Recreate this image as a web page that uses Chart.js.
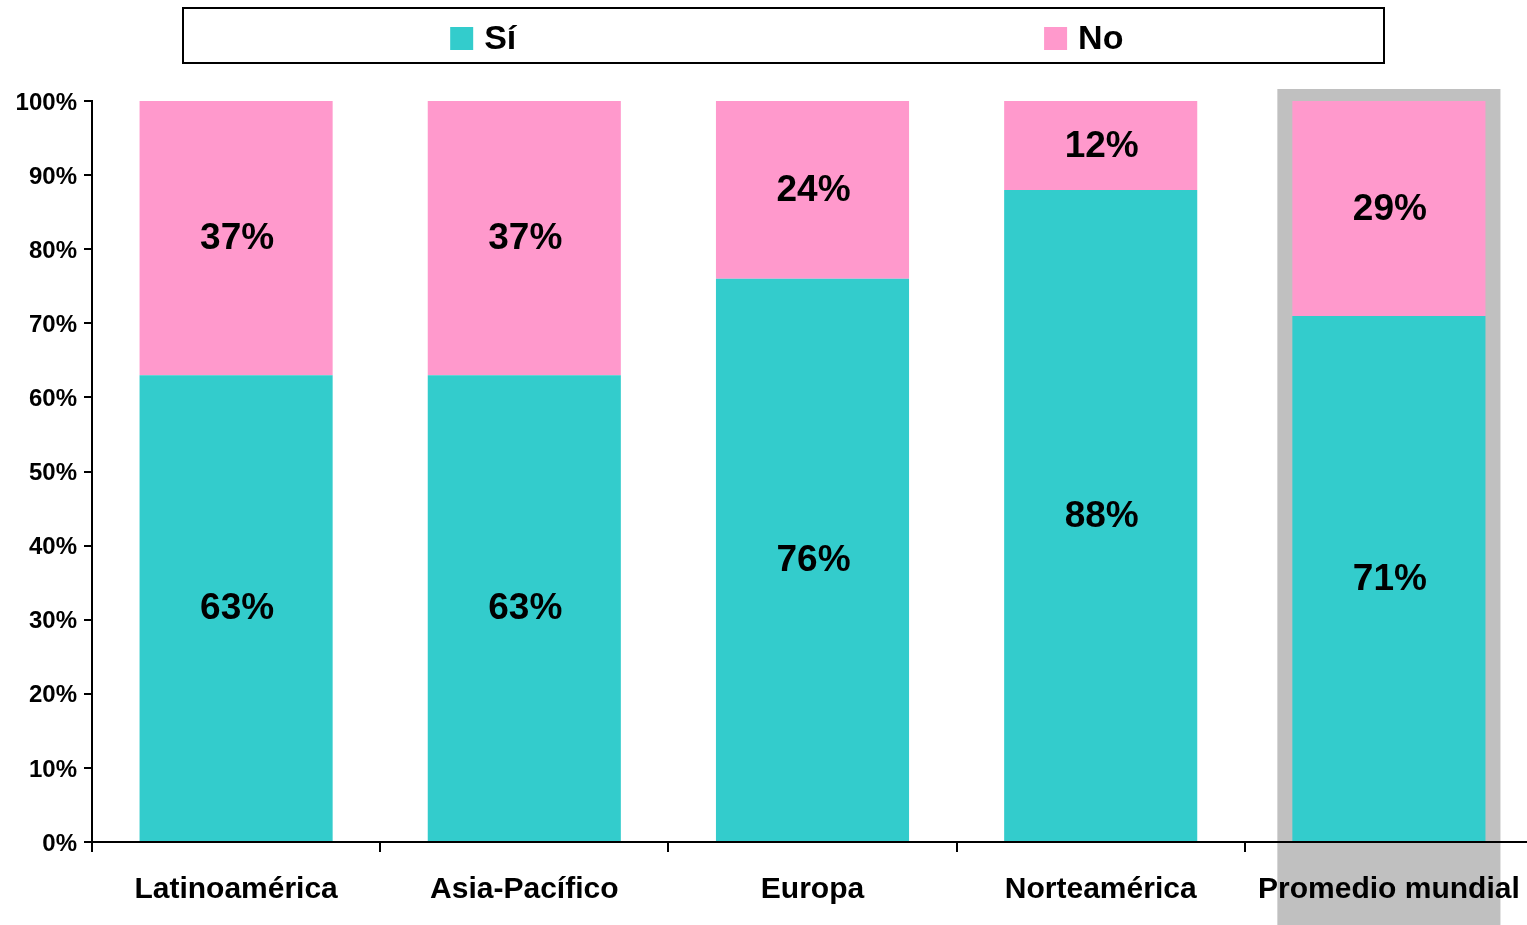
<!DOCTYPE html>
<html>
<head>
<meta charset="utf-8">
<script src="https://cdn.jsdelivr.net/npm/chart.js@4/dist/chart.umd.min.js"></script>
<style>
html,body{margin:0;padding:0;background:#fff;overflow:hidden;}
#wrap{width:1533px;height:925px;}
</style>
</head>
<body>
<div id="wrap"><canvas id="c" width="1533" height="925"></canvas></div>
<script>
const categories = ['Latinoamérica', 'Asia-Pacífico', 'Europa', 'Norteamérica', 'Promedio mundial'];
const siValues = [63, 63, 76, 88, 71];
const noValues = [37, 37, 24, 12, 29];
const seriesNames = ['Sí', 'No'];
const highlightIndex = 4;

const FONT = '"Liberation Sans", Arial, sans-serif';

const highlightPlugin = {
  id: 'highlight',
  beforeDraw(chart) {
    const ctx = chart.ctx;
    const meta = chart.getDatasetMeta(0);
    const el = meta.data[highlightIndex];
    if (!el) return;
    const y = chart.scales.y;
    const half = el.width / 2 + 15;
    const top = y.getPixelForValue(100) - 12;
    ctx.save();
    ctx.fillStyle = '#C0C0C0';
    ctx.fillRect(el.x - half, top, half * 2, chart.height - top);
    ctx.restore();
  }
};

const labelsPlugin = {
  id: 'barLabels',
  afterDatasetsDraw(chart) {
    const ctx = chart.ctx;
    ctx.save();
    ctx.font = 'bold 37px ' + FONT;
    ctx.fillStyle = '#000';
    ctx.textAlign = 'center';
    ctx.textBaseline = 'middle';
    chart.data.datasets.forEach((ds, di) => {
      const meta = chart.getDatasetMeta(di);
      meta.data.forEach((el, i) => {
        const cy = (el.y + el.base) / 2 + 1;
        ctx.fillText(ds.data[i] + '%', el.x + 1, cy);
      });
    });
    ctx.restore();
  }
};

const legendPlugin = {
  id: 'boxLegend',
  afterDraw(chart) {
    const ctx = chart.ctx;
    const bx = 183, by = 8, bw = 1201, bh = 55;
    ctx.save();
    ctx.strokeStyle = '#000';
    ctx.lineWidth = 2;
    ctx.strokeRect(bx, by, bw, bh);
    ctx.font = 'bold 34px ' + FONT;
    ctx.textBaseline = 'middle';
    ctx.textAlign = 'left';
    const n = chart.data.datasets.length;
    const slot = bw / n;
    const cy = by + bh / 2 + 3;
    chart.data.datasets.forEach((ds, i) => {
      const sq = 23, gap = 11;
      const tw = ctx.measureText(ds.label).width;
      const total = sq + gap + tw;
      const cx = bx + slot * i + slot / 2;
      const x0 = cx - total / 2;
      ctx.fillStyle = ds.backgroundColor;
      ctx.fillRect(x0, cy - sq / 2, sq, sq);
      ctx.fillStyle = '#000';
      ctx.fillText(ds.label, x0 + sq + gap, cy + 1);
    });
    ctx.restore();
  }
};

new Chart(document.getElementById('c'), {
  type: 'bar',
  data: {
    labels: categories,
    datasets: [
      { label: seriesNames[0], data: siValues, backgroundColor: '#33CCCC', borderWidth: 0, barPercentage: 0.67, categoryPercentage: 1.0 },
      { label: seriesNames[1], data: noValues, backgroundColor: '#FF99CC', borderWidth: 0, barPercentage: 0.67, categoryPercentage: 1.0 }
    ]
  },
  options: {
    responsive: false,
    animation: false,
    layout: { padding: { top: 101, right: 0, left: 0, bottom: 0 } },
    plugins: { legend: { display: false }, tooltip: { enabled: false } },
    scales: {
      x: {
        stacked: true,
        afterFit(scale) { scale.height = 83; scale.paddingLeft = 0; scale.paddingRight = 0; },
        border: { display: true, color: '#000', width: 2 },
        grid: { display: true, drawOnChartArea: false, drawTicks: true, tickLength: 10, color: '#000', lineWidth: 2, offset: true },
        ticks: { color: '#000', font: { family: FONT, size: 30, weight: 'bold' }, padding: 20, maxRotation: 0, autoSkip: false }
      },
      y: {
        stacked: true,
        min: 0, max: 100,
        afterFit(scale) { scale.width = 92; },
        border: { display: true, color: '#000', width: 2 },
        grid: { display: true, drawOnChartArea: false, drawTicks: true, tickLength: 8, color: '#000', lineWidth: 2 },
        ticks: { stepSize: 10, color: '#000', font: { family: FONT, size: 24, weight: 'bold' }, padding: 7, labelOffset: 2, callback: v => v + '%' }
      }
    }
  },
  plugins: [highlightPlugin, labelsPlugin, legendPlugin]
});
</script>
</body>
</html>
